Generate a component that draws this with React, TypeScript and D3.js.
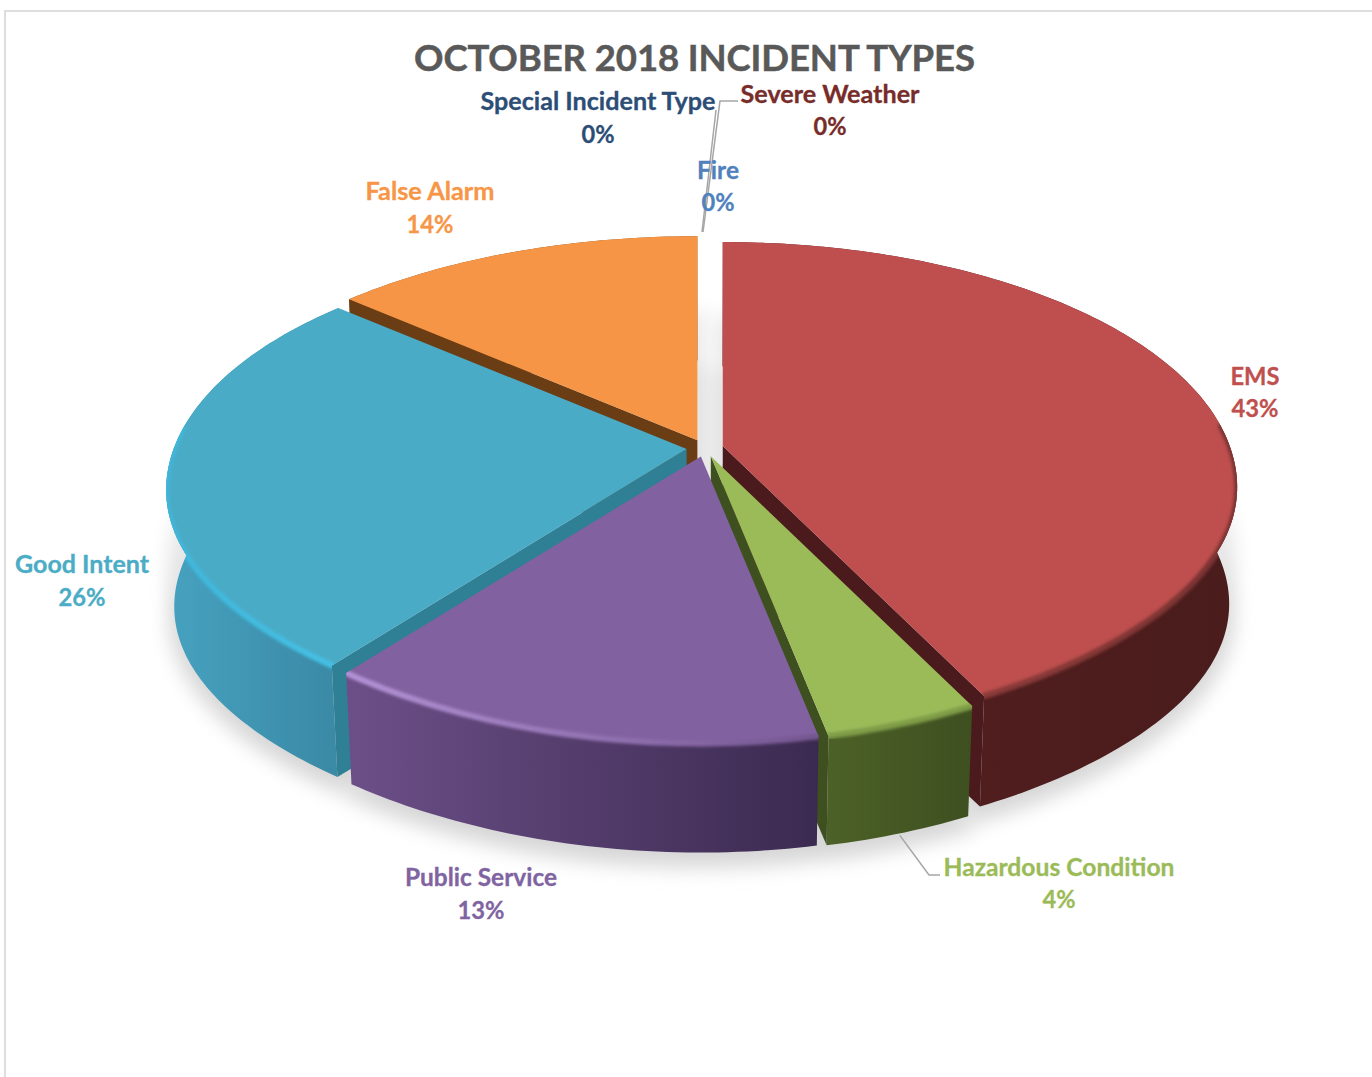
import React from "react";
import * as d3 from "d3";

const W = 1372, H = 1077;
const categories = ["EMS", "Hazardous Condition", "Public Service", "Good Intent", "False Alarm", "Special Incident Type", "Severe Weather", "Fire"];
const shares = [42.8, 4.1, 13.3, 26.2, 13.6, 0, 0, 0];
const titleText = "OCTOBER 2018 INCIDENT TYPES";

const topColors = ["#BE4F4E", "#9BBB59", "#8261A0", "#4AABC6", "#F59545"];
const sideLeft = ["#561F1F", "#4C6127", "#6C4F88", "#46A2C0", "#8A4F1E"];
const sideRight = ["#4A1C1C", "#3E4F20", "#3B2A50", "#3A89A5", "#8A4F1E"];
const wallColors = ["#4A1A1C", "#3F5020", "#000", "#2F7F95", "#6B3D15"];
const wallSide = ["end", "end", "none", "start", "start"];
const bevelLeft = ["#9A4241", "#7F9C46", "#B492D6", "#3FB6DA", "#F59545"];
const bevelRight = ["#7A3231", "#7F9C46", "#745690", "#45C0E4", "#F59545"];
const drawOrder = [4, 0, 3, 1, 2];

const labelColors = ["#C0504D", "#9BBB59", "#8064A2", "#4BACC6", "#F79646", "#2C4D75", "#772C2A", "#4F81BD"];
const labelX = [1255, 1059, 481, 82, 430, 598, 830, 718];
const labelY1 = [385, 876, 886, 573, 200, 110, 103, 179];
const labelY2 = [417, 908, 919, 606, 233, 143, 135, 211];
const labelW1 = [49, 231, 152, 134, 129, 235, 179, 42];
const labelW2 = [47, 33, 47, 47, 47, 33, 33, 33];

// perspective model of the pie plane
const cx = 705, cy = 448, fRight = 507, fLeft = 513, g = 238.5, p = 0.169, explode = 0.036, flatten = 5;
const bottomScaleX = 0.985, bottomScaleY = 0.97, depth = 118;

type Pt = [number, number];
const proj = (X: number, U: number): Pt => {
  const den = 1 - p * U;
  const flat = U > 0 ? flatten * (2 * X * U) ** 2 : 0;
  return [cx + ((X < 0 ? fLeft : fRight) * X) / den, cy + (g * U) / den - flat];
};
const down = ([x, y]: Pt): Pt => [cx + (x - cx) * bottomScaleX, cy + (y - cy) * bottomScaleY + depth];

const pieGen = d3.pie<number>().sort(null).value((d) => d).startAngle(0).endAngle(2 * Math.PI);
const arcs = pieGen(shares);
const line = d3.line<Pt>();
const poly = (pts: Pt[]) => line(pts) + "Z";

export default function App() {
  const slices = arcs.slice(0, 5).map((a, i) => {
    const mid = (a.startAngle + a.endAngle) / 2;
    const apex = proj(explode * Math.sin(mid), -explode * Math.cos(mid));
    const dx = apex[0] - cx, dy = apex[1] - cy;
    const pts = (t: number): Pt => {
      const q = proj(Math.sin(t), -Math.cos(t));
      return [q[0] + dx, q[1] + dy];
    };
    const n = Math.max(8, Math.round((a.endAngle - a.startAngle) * 60));
    const ang = d3.range(n + 1).map((k) => a.startAngle + ((a.endAngle - a.startAngle) * k) / n);
    const rim = ang.map(pts);
    const front = ang.filter((t) => -Math.cos(t) > -0.1).map(pts);
    const edgeT = wallSide[i] === "start" ? a.startAngle : a.endAngle;
    const e = pts(edgeT);
    return {
      i,
      rim,
      front,
      pts,
      top: poly([apex, ...rim]),
      band: poly([...rim, ...rim.map(down).reverse()]),
      wall: wallSide[i] === "none" ? null : poly([apex, e, down(e), down(apex)]),
      bottom: poly([down(apex), ...rim.map(down)]),
      xExt: d3.extent(rim, (d) => d[0]) as [number, number],
    };
  });
  const tipTop = proj(0, -1.0);
  const hazT = (arcs[1].startAngle + arcs[1].endAngle) / 2;
  const hazAnchor = down(slices[1].pts(hazT));

  return (
    <svg width={W} height={H} style={{ position: "absolute", left: 0, top: 0, display: "block", background: "#fff" }}>
      <defs>
        <filter id="shadow" x="-20%" y="-30%" width="140%" height="160%">
          <feGaussianBlur stdDeviation="10" />
        </filter>
        <filter id="soft" x="-10%" y="-10%" width="120%" height="120%">
          <feGaussianBlur stdDeviation="1.8" />
        </filter>
        {slices.map((s) => (
          <React.Fragment key={s.i}>
            <linearGradient id={`side${s.i}`} gradientUnits="userSpaceOnUse" x1={s.xExt[0]} x2={s.xExt[1]} y1={0} y2={0}>
              <stop offset="0" stopColor={sideLeft[s.i]} />
              <stop offset="1" stopColor={sideRight[s.i]} />
            </linearGradient>
            <linearGradient id={`bevel${s.i}`} gradientUnits="userSpaceOnUse" x1={s.xExt[0]} x2={s.xExt[1]} y1={0} y2={0}>
              <stop offset="0" stopColor={bevelLeft[s.i]} />
              <stop offset="1" stopColor={bevelRight[s.i]} />
            </linearGradient>
            <clipPath id={`clip${s.i}`}>
              <path d={s.top} />
              <path d={s.band} />
            </clipPath>
          </React.Fragment>
        ))}
      </defs>

      <path d={`M5,1077V11H1372`} fill="none" stroke="#DEDEDE" strokeWidth={2} />

      <g filter="url(#shadow)" fill="#D6D6D6" transform="translate(0,10)">
        {slices.map((s) => <path key={s.i} d={s.bottom} stroke="#D6D6D6" strokeWidth={10} />)}
      </g>
      <g filter="url(#shadow)" fill="#E6E6E6" transform="translate(0,-45)">
        {slices.map((s) => <path key={s.i} d={s.bottom} stroke="#E6E6E6" strokeWidth={10} />)}
      </g>

      {drawOrder.map((i) => {
        const s = slices[i];
        return (
          <g key={i}>
            <path d={s.band} fill={`url(#side${i})`} />
            {s.wall && <path d={s.wall} fill={wallColors[i]} />}
            <path d={s.top} fill={topColors[i]} />
            {s.front.length > 1 && (
              <g clipPath={`url(#clip${i})`}>
                <path d={line(s.front)!} fill="none" stroke={`url(#bevel${i})`} strokeWidth={6} filter="url(#soft)" strokeLinecap="round" />
              </g>
            )}
          </g>
        );
      })}

      <g fill="none" stroke="#A6A6A6" strokeWidth={1.5}>
        <polyline points={`738,101 720,101 ${tipTop[0] - 2},232`} />
        <polyline points={`716,110 ${tipTop[0] - 3},232`} />
        <polyline points={`${hazAnchor[0]},${hazAnchor[1] + 2} 929,875 940,875`} />
      </g>

      <text x={694.5} y={70.5} textAnchor="middle" textLength={561} lengthAdjust="spacing"
        fontFamily="Lato, 'Open Sans', sans-serif" fontWeight={700} fontSize={36.5} fill="#595959" stroke="#595959" strokeWidth={0.5}>{titleText}</text>

      <g fontFamily="Lato, 'Open Sans', sans-serif" fontWeight={700} fontSize={24} textAnchor="middle">
        {categories.map((c, i) => (
          <g key={c} fill={labelColors[i]} stroke={labelColors[i]} strokeWidth={0.3}>
            <text x={labelX[i]} y={labelY1[i]} textLength={labelW1[i]} lengthAdjust="spacingAndGlyphs">{c}</text>
            <text x={labelX[i]} y={labelY2[i]} textLength={labelW2[i]} lengthAdjust="spacingAndGlyphs">{Math.round(shares[i])}%</text>
          </g>
        ))}
      </g>
    </svg>
  );
}
